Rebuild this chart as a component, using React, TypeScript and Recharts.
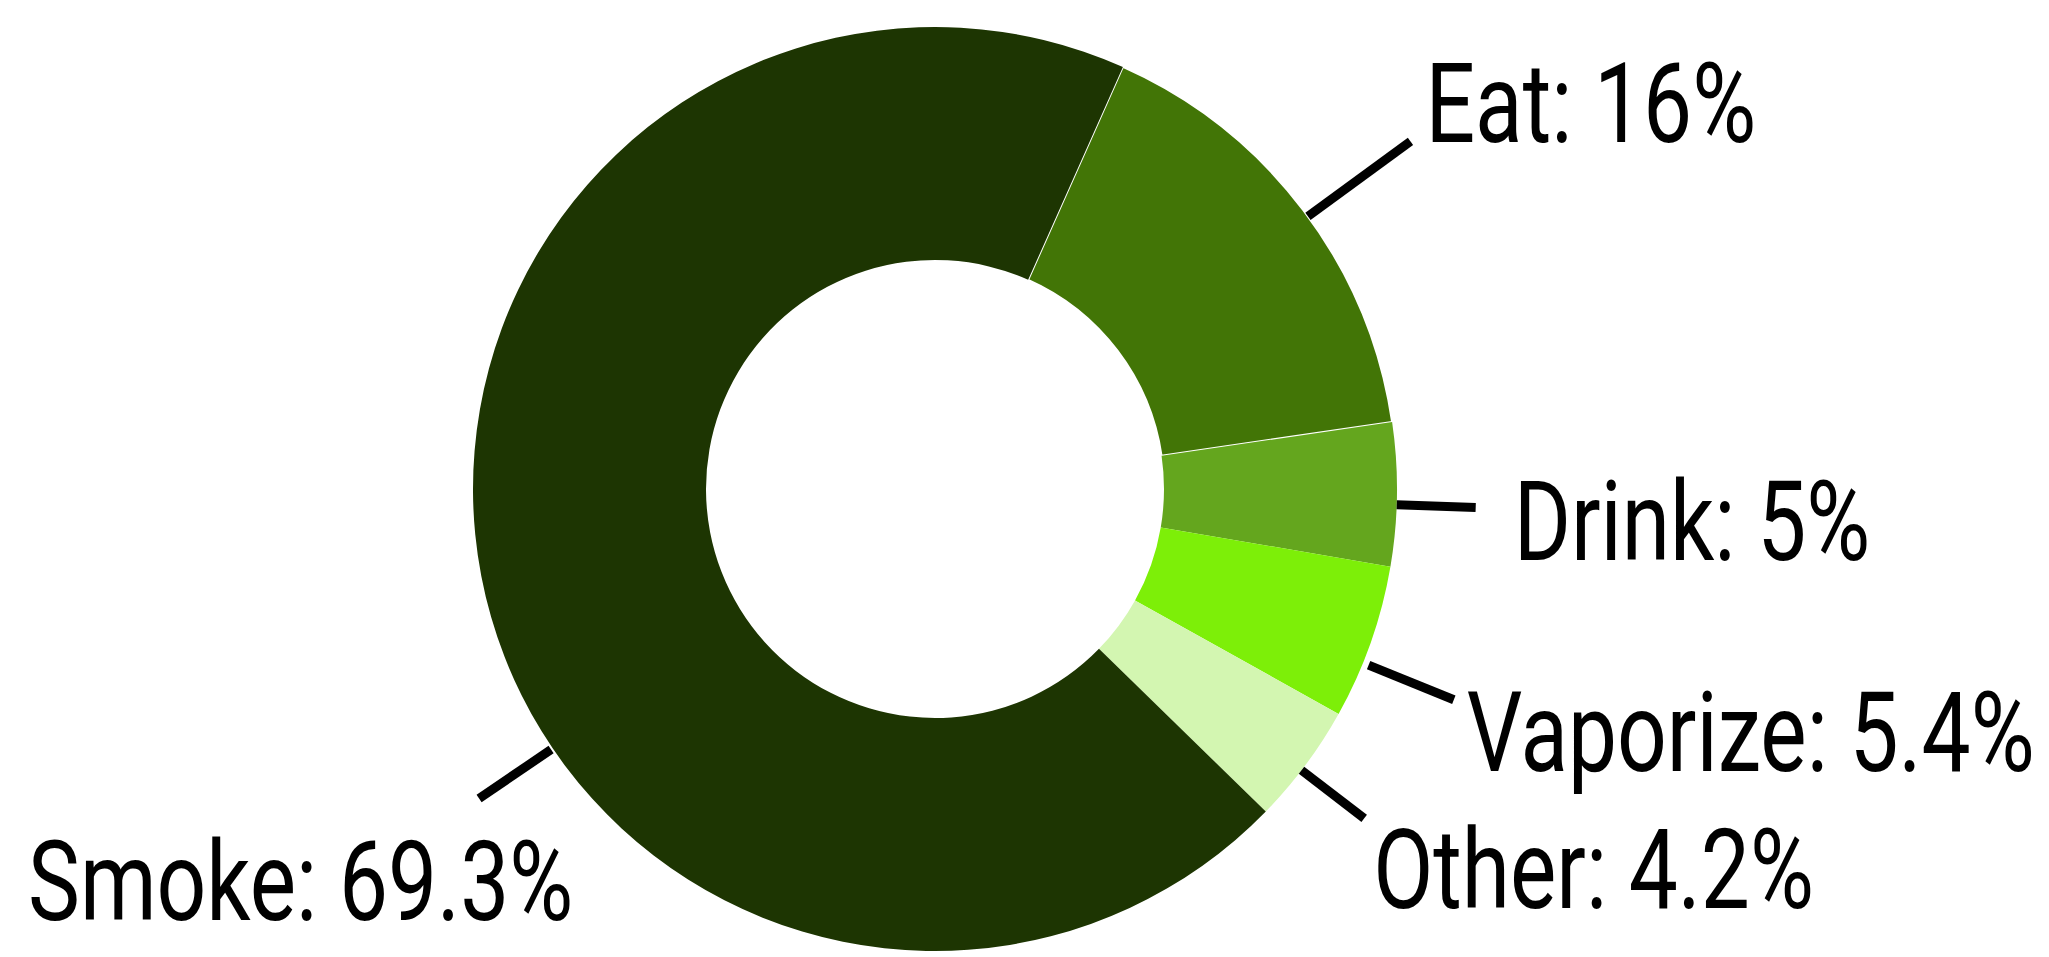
import React from "react";
import { PieChart, Pie, Cell } from "recharts";

const categories = ["Eat", "Drink", "Vaporize", "Other", "Smoke"];
const shares = [16, 5, 5.4, 4.2, 69.3];
const colors = ["#427506", "#64a61e", "#7def08", "#d3f6b1", "#1d3502"];

const data = categories.map((name, i) => ({ name, value: shares[i] }));

// leader line + text placement per slice (angle shift in deg, radii past the rim, text offset from line end)
const LABEL_LAYOUT: Record<string, { shift: number; r0: number; r1: number; dx: number; dy: number }> = {
  Eat: { shift: -1, r0: 0, r1: 127, dx: 15, dy: 1 },
  Drink: { shift: -1.3, r0: 0, r1: 79, dx: 38, dy: 52 },
  Vaporize: { shift: -2.7, r0: 6, r1: 98, dx: 13, dy: 71 },
  Other: { shift: -0.8, r0: 0, r1: 79, dx: 9, dy: 90 },
  Smoke: { shift: 23.3, r0: 2, r1: 89, dx: -451, dy: 122 },
};

const RAD = Math.PI / 180;
const TEXT_SQUEEZE = 0.78; // the original face is a condensed sans

function renderLabel(props: any) {
  const { cx, cy, midAngle, outerRadius, index } = props;
  const name = categories[index];
  const value = shares[index];
  const l = LABEL_LAYOUT[name];
  const a = (midAngle + l.shift) * RAD;
  const cos = Math.cos(-a);
  const sin = Math.sin(-a);
  const x0 = cx + (outerRadius + l.r0) * cos;
  const y0 = cy + (outerRadius + l.r0) * sin;
  const x1 = cx + (outerRadius + l.r1) * cos;
  const y1 = cy + (outerRadius + l.r1) * sin;
  return (
    <g key={name}>
      <line x1={x0} y1={y0} x2={x1} y2={y1} stroke="#000" strokeWidth={9} />
      <text
        transform={`translate(${x1 + l.dx} ${y1 + l.dy}) scale(${TEXT_SQUEEZE} 1)`}
        x={0}
        y={0}
        textAnchor="start"
        fill="#000"
        fontSize={112}
        fontFamily="Roboto, 'Noto Sans', sans-serif"
      >
        {`${name}: ${value}%`}
      </text>
    </g>
  );
}

export default function App() {
  return (
    <div style={{ position: "absolute", left: 0, top: 0, background: "#fff" }}>
      <PieChart width={2049} height={957} margin={{ top: 0, right: 0, bottom: 0, left: 0 }}>
        <Pie
          data={data}
          dataKey="value"
          nameKey="name"
          cx={935}
          cy={489}
          innerRadius={229}
          outerRadius={462}
          startAngle={66}
          endAngle={-294}
          stroke="none"
          label={renderLabel}
          labelLine={false}
          isAnimationActive={false}
        >
          {data.map((d, i) => (
            <Cell
              key={d.name}
              fill={colors[i]}
              stroke={d.name === "Eat" ? "#fff" : "none"}
              strokeWidth={d.name === "Eat" ? 2 : 0}
            />
          ))}
        </Pie>
      </PieChart>
    </div>
  );
}
